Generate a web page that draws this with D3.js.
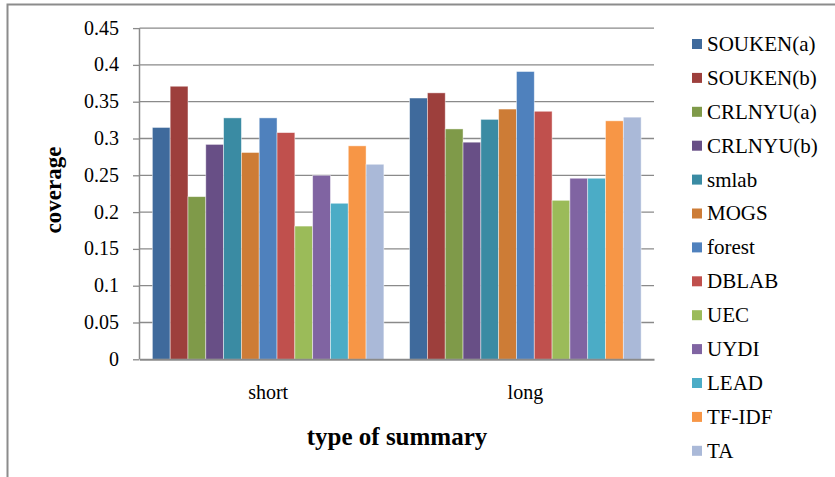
<!DOCTYPE html>
<html><head><meta charset="utf-8">
<script src="https://cdn.jsdelivr.net/npm/d3@7"></script>
<style>body{margin:0;background:#fff}svg{display:block}text{font-family:"Liberation Serif","Times New Roman",serif;fill:#000}</style>
</head><body><svg id="c" width="835" height="477"></svg>
<script>
const categories = ["short", "long"];
const seriesNames = ["SOUKEN(a)","SOUKEN(b)","CRLNYU(a)","CRLNYU(b)","smlab","MOGS","forest","DBLAB","UEC","UYDI","LEAD","TF-IDF","TA"];
const shortValues = [0.315,0.371,0.221,0.292,0.328,0.281,0.328,0.308,0.181,0.250,0.212,0.290,0.265];
const longValues  = [0.355,0.362,0.313,0.295,0.326,0.340,0.391,0.337,0.216,0.246,0.246,0.324,0.329];
const colors = ["#3F6A9C","#9D3F3C","#7F9A49","#684F86","#3A8BA3","#CD7C36","#4F81BD","#C0504D","#9BBB59","#8064A2","#4BACC6","#F79646","#AAB9D8"];
const yTicks = [0,0.05,0.1,0.15,0.2,0.25,0.3,0.35,0.4,0.45];

const svg = d3.select("#c");
// frame
svg.append("path").attr("d","M7.5,477V4.5H835").attr("fill","none").attr("stroke","#8c8c8c").attr("stroke-width",2);

const L=139.5, R=654, T=28.1, B=359.3;
const y = d3.scaleLinear().domain([0,0.45]).range([B,T]);
const x0 = d3.scaleBand().domain(categories).range([L,R]).paddingInner(0.1).paddingOuter(0.05);
const x1 = d3.scaleBand().domain(seriesNames).range([0,x0.bandwidth()]);
const color = d3.scaleOrdinal().domain(seriesNames).range(colors);

// gridlines
svg.append("g").selectAll("line").data(yTicks.filter(d=>d>0)).join("line")
  .attr("x1",L).attr("x2",R).attr("y1",d=>y(d)).attr("y2",d=>y(d))
  .attr("stroke","#8a8a8a").attr("stroke-width",1.3);

const data = categories.map((c,i)=>({cat:c, vals:(i===0?shortValues:longValues)}));
const groups = svg.append("g").selectAll("g").data(data).join("g")
  .attr("transform",d=>`translate(${x0(d.cat)},0)`);
groups.selectAll("rect").data(d=>d.vals.map((v,j)=>({name:seriesNames[j],v}))).join("rect")
  .attr("x",d=>x1(d.name)).attr("width",x1.bandwidth())
  .attr("y",d=>y(d.v)).attr("height",d=>B-y(d.v))
  .attr("fill",d=>color(d.name)).attr("stroke","rgba(255,255,255,0.55)").attr("stroke-width",0.8);

// y axis
const ya = svg.append("g").attr("transform",`translate(${L},0)`)
  .call(d3.axisLeft(y).tickValues(yTicks).tickFormat(d=>d3.format("")(+d.toFixed(2))).tickSize(6.5).tickPadding(14));
ya.select(".domain").attr("stroke","#8a8a8a").attr("stroke-width",1.5).attr("d",`M0,${T}V${B}`);
ya.selectAll(".tick line").attr("stroke","#8a8a8a").attr("stroke-width",1.3);
ya.selectAll(".tick text").attr("font-size",20).attr("font-family","Liberation Serif").attr("fill","#000").attr("dy","0.3em");

// x axis baseline
const xa = svg.append("g").attr("transform",`translate(0,${B})`).call(d3.axisBottom(x0).tickSize(0).tickPadding(26));
xa.select(".domain").attr("stroke","#8a8a8a").attr("stroke-width",2);
xa.selectAll(".tick text").attr("font-size",20).attr("font-family","Liberation Serif").attr("fill","#000");

// axis titles
svg.append("text").attr("x",397).attr("y",445).attr("text-anchor","middle").attr("font-size",25).attr("font-weight","bold").text("type of summary");
svg.append("text").attr("transform","translate(61,190) rotate(-90)").attr("text-anchor","middle").attr("font-size",23).attr("font-weight","bold").text("coverage");

// legend
const lg = svg.append("g").selectAll("g").data(seriesNames).join("g")
  .attr("transform",(d,i)=>`translate(692,${44+i*33.9})`);
lg.append("rect").attr("x",0).attr("y",-5).attr("width",10).attr("height",10).attr("fill",d=>color(d));
lg.append("text").attr("x",15).attr("y",0).attr("dy","0.33em").attr("font-size",21).text(d=>d);
</script></body></html>
